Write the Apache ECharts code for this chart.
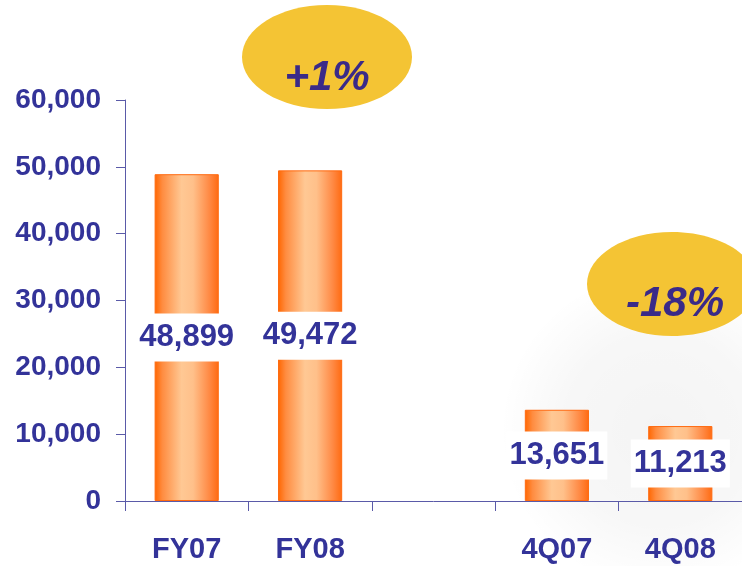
<!DOCTYPE html>
<html>
<head>
<meta charset="utf-8">
<script src="https://cdn.jsdelivr.net/npm/echarts@6/dist/echarts.min.js"></script>
<style>
html, body { margin: 0; padding: 0; background: #fff; }
#main { width: 742px; height: 566px; }
</style>
</head>
<body>
<div id="main"></div>
<script>
// 数据
var categories = ['FY07', 'FY08', '', '4Q07', '4Q08'];
var sales = [48899, 49472, '-', 13651, 11213];
var yTicks = [0, 10000, 20000, 30000, 40000, 50000, 60000];
var changes = ['+1%', '-18%'];

var myChart = echarts.init(document.getElementById('main'));

function fmt(v) {
	return Number(v).toLocaleString('en-US');
}

// 柱子的横向渐变
var barColor = new echarts.graphic.LinearGradient(0, 0, 1, 0, [
	{ offset: 0, color: '#ff6600' },
	{ offset: 0.12, color: '#ff8c40' },
	{ offset: 0.42, color: '#ffc894' },
	{ offset: 0.6, color: '#ffc08a' },
	{ offset: 0.85, color: '#ff8a45' },
	{ offset: 1, color: '#ff6a10' }
]);

var textBlue = '#333399';
var bubbleText = '#3a2a88';
var bubbleFill = '#f4c434';

var option = {
	backgroundColor: '#ffffff',
	animation: false,
	grid: {
		left: 125,
		right: 0,
		top: 100,
		bottom: 65,
		containLabel: false
	},
	xAxis: {
		type: 'category',
		data: categories,
		axisLine: { lineStyle: { color: '#5a5aa8', width: 1 } },
		axisTick: { show: true, length: 10, lineStyle: { color: '#5a5aa8' } },
		axisLabel: {
			margin: 34,
			color: textBlue,
			fontFamily: 'Liberation Sans, Arial, sans-serif',
			fontWeight: 'bold',
			fontSize: 29
		}
	},
	yAxis: {
		type: 'value',
		min: yTicks[0],
		max: yTicks[yTicks.length - 1],
		interval: 10000,
		splitLine: { show: false },
		axisLine: { show: true, lineStyle: { color: '#5a5aa8', width: 1 } },
		axisTick: { show: true, length: 9, lineStyle: { color: '#5a5aa8' } },
		axisLabel: {
			margin: 24,
			color: textBlue,
			fontFamily: 'Liberation Sans, Arial, sans-serif',
			fontWeight: 'bold',
			fontSize: 28,
			formatter: fmt
		}
	},
	graphic: [
		{
			// 背景的浅灰色
			type: 'ellipse',
			z: -10,
			silent: true,
			shape: { cx: 660, cy: 430, rx: 280, ry: 160 },
			style: {
				fill: new echarts.graphic.RadialGradient(0.5, 0.5, 0.5, [
					{ offset: 0, color: 'rgba(0,0,0,0.045)' },
					{ offset: 0.6, color: 'rgba(0,0,0,0.03)' },
					{ offset: 1, color: 'rgba(0,0,0,0)' }
				])
			}
		},
		{
			type: 'ellipse',
			shape: { cx: 327, cy: 57, rx: 85, ry: 52 },
			style: { fill: bubbleFill }
		},
		{
			type: 'text',
			x: 327,
			y: 78,
			style: {
				text: changes[0],
				fill: bubbleText,
				font: 'italic bold 42px "Liberation Sans", Arial, sans-serif',
				align: 'center',
				verticalAlign: 'middle'
			}
		},
		{
			type: 'ellipse',
			shape: { cx: 672, cy: 284, rx: 85, ry: 52 },
			style: { fill: bubbleFill }
		},
		{
			type: 'text',
			x: 675,
			y: 304,
			style: {
				text: changes[1],
				fill: bubbleText,
				font: 'italic bold 42px "Liberation Sans", Arial, sans-serif',
				align: 'center',
				verticalAlign: 'middle'
			}
		}
	],
	series: [{
		type: 'bar',
		data: sales,
		barWidth: '52%',
		itemStyle: {
			color: barColor,
			borderColor: '#ff6a10',
			borderWidth: 1
		},
		label: {
			show: true,
			position: 'inside',
			formatter: function(p) { return fmt(p.value); },
			color: textBlue,
			fontFamily: 'Liberation Sans, Arial, sans-serif',
			fontWeight: 'bold',
			fontSize: 31,
			backgroundColor: '#ffffff',
			padding: [9, 3, 8, 3]
		}
	}]
};

myChart.setOption(option);
</script>
</body>
</html>
